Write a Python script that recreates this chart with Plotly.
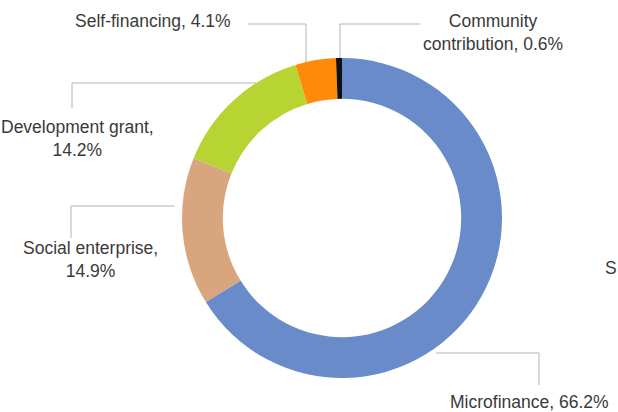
import math
import plotly.graph_objects as go

# ---- data ----
labels = ["Microfinance", "Social enterprise", "Development grant", "Self-financing", "Community contribution"]
values = [66.2, 14.9, 14.2, 4.1, 0.6]
label_texts = [
    "Microfinance, 66.2%",
    "Social enterprise,<br>14.9%",
    "Development grant,<br>14.2%",
    "Self-financing, 4.1%",
    "Community<br>contribution, 0.6%",
]
colors = ["#6a8bc9", "#d9a57f", "#b8d432", "#ff8a0a", "#111111"]

# ---- layout constants (pixels) ----
W, H = 618, 412
CX, CY, R = 342, 218, 160
HOLE = 0.745
FONT = dict(family="Liberation Sans, Arial, sans-serif", size=17.5, color="#3a3a3a")
LINE_COLOR = "#b4b4b4"

# label placement: text centre, and connector (kind, elbow x, elbow y, text-side end, gap to ring)
placement = {
    "Microfinance": dict(tx=529, ty=402, kind="h", ex=539, ey=353, end=385, gap=8),
    "Social enterprise": dict(tx=90, ty=259, kind="h", ex=71, ey=206, end=238, gap=8),
    "Development grant": dict(tx=77, ty=138, kind="h", ex=72, ey=83, end=108, gap=0),
    "Self-financing": dict(tx=153, ty=21, kind="v", ex=306, ey=24, end=248, gap=0),
    "Community contribution": dict(tx=493, ty=32, kind="v", ex=340, ey=24, end=420, gap=0),
}

fig = go.Figure()

fig.add_trace(go.Pie(
    labels=labels,
    values=values,
    marker=dict(colors=colors, line=dict(width=0)),
    hole=HOLE,
    sort=False,
    direction="clockwise",
    rotation=0,
    textinfo="none",
    hoverinfo="label+percent",
    showlegend=False,
    domain=dict(x=[(CX - R) / W, (CX + R) / W], y=[1 - (CY + R) / H, 1 - (CY - R) / H]),
))

# connectors
for lab in labels:
    p = placement[lab]
    if p["kind"] == "h":
        dy = p["ey"] - CY
        dx = math.sqrt(max(R * R - dy * dy, 0)) + p["gap"]
        rx = CX - dx if p["ex"] < CX else CX + dx
        xs = [p["ex"], p["ex"], rx]
        ys = [p["end"], p["ey"], p["ey"]]
    else:
        dxv = p["ex"] - CX
        ry = CY - math.sqrt(max(R * R - dxv * dxv, 0)) - p["gap"]
        xs = [p["end"], p["ex"], p["ex"]]
        ys = [p["ey"], p["ey"], ry]
    fig.add_trace(go.Scatter(x=xs, y=ys, mode="lines",
                             line=dict(color=LINE_COLOR, width=1),
                             hoverinfo="skip", showlegend=False,
                             xaxis="x", yaxis="y"))

annotations = []
for lab, txt in zip(labels, label_texts):
    p = placement[lab]
    annotations.append(dict(x=p["tx"], y=p["ty"], xref="x", yref="y", text=txt,
                            showarrow=False, font=FONT, align="center",
                            xanchor="center", yanchor="middle"))
# partially visible label at the right edge
annotations.append(dict(x=603, y=268, xref="x", yref="y", text="S", showarrow=False,
                        font=FONT, xanchor="left", yanchor="middle"))

fig.update_layout(
    width=W, height=H,
    margin=dict(l=0, r=0, t=0, b=0),
    paper_bgcolor="white", plot_bgcolor="rgba(0,0,0,0)",
    xaxis=dict(range=[0, W], visible=False, fixedrange=True),
    yaxis=dict(range=[H, 0], visible=False, fixedrange=True),
    annotations=annotations,
    showlegend=False,
)

fig.write_html("out.html")
